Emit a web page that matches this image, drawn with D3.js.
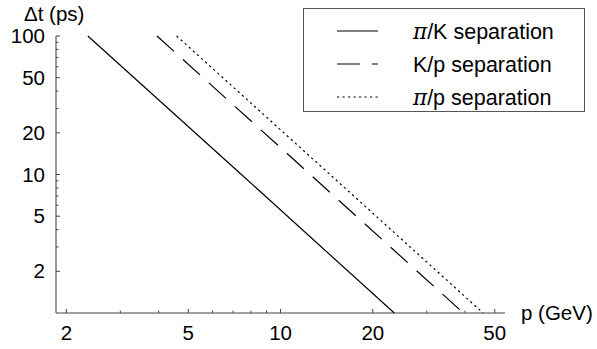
<!DOCTYPE html>
<html>
<head>
<meta charset="utf-8">
<script src="https://cdn.jsdelivr.net/npm/d3@7"></script>
<style>
  html, body { margin: 0; padding: 0; background: #fff; }
  svg { display: block; }
  text { font-family: "Liberation Sans", Arial, Helvetica, sans-serif; fill: #000; }
</style>
</head>
<body>
<svg id="chart" width="597" height="349"></svg>
<script>
// ---- data ----
const seriesNames = ["π/K separation", "K/p separation", "π/p separation"];
const piK_p  = [2.35, 7.45, 23.5];
const piK_dt = [100, 10, 1];
const Kp_p   = [3.95, 12.5, 39.5];
const Kp_dt  = [100, 10, 1];
const pip_p  = [4.58, 14.5, 45.8];
const pip_dt = [100, 10, 1];

const xMajorTicks = [2, 5, 10, 20, 50];
const xMinorTicks = [3, 4, 6, 7, 8, 9, 30, 40];
const yMajorTicks = [2, 5, 10, 20, 50, 100];
const yMinorTicks = [3, 4, 6, 7, 8, 9, 30, 40, 60, 70, 80, 90];

const xDomain = [1.85, 54];
const yDomain = [1, 100];

// ---- layout ----
const svg = d3.select("#chart");
const x = d3.scaleLog().domain(xDomain).range([56, 505]);
const y = d3.scaleLog().domain(yDomain).range([313, 36]);

const axisColor = "#444";
const fontSize = 20.5;
const legendFontSize = 21.5;

// x axis line
svg.append("line").attr("x1", x.range()[0]).attr("x2", x.range()[1])
  .attr("y1", y.range()[0]).attr("y2", y.range()[0])
  .attr("stroke", axisColor).attr("stroke-width", 1.1);
// y axis line
svg.append("line").attr("x1", x.range()[0]).attr("x2", x.range()[0])
  .attr("y1", y.range()[0]).attr("y2", y.range()[1])
  .attr("stroke", axisColor).attr("stroke-width", 1.1);

// x ticks (pointing into the plot)
const x0 = y.range()[0];
svg.append("g").selectAll("line").data(xMajorTicks).join("line")
  .attr("x1", d => x(d)).attr("x2", d => x(d))
  .attr("y1", x0).attr("y2", x0 - 4)
  .attr("stroke", axisColor).attr("stroke-width", 1);
svg.append("g").selectAll("line").data(xMinorTicks).join("line")
  .attr("x1", d => x(d)).attr("x2", d => x(d))
  .attr("y1", x0).attr("y2", x0 - 2.5)
  .attr("stroke", axisColor).attr("stroke-width", 1);
svg.append("g").selectAll("text").data(xMajorTicks).join("text")
  .attr("x", d => x(d)).attr("y", 340)
  .attr("text-anchor", "middle").attr("font-size", fontSize)
  .text(d => d);

// y ticks
const y0 = x.range()[0];
svg.append("g").selectAll("line").data(yMajorTicks).join("line")
  .attr("x1", y0).attr("x2", y0 + 4)
  .attr("y1", d => y(d)).attr("y2", d => y(d))
  .attr("stroke", axisColor).attr("stroke-width", 1);
svg.append("g").selectAll("line").data(yMinorTicks).join("line")
  .attr("x1", y0).attr("x2", y0 + 2.5)
  .attr("y1", d => y(d)).attr("y2", d => y(d))
  .attr("stroke", axisColor).attr("stroke-width", 1);
svg.append("g").selectAll("text").data(yMajorTicks).join("text")
  .attr("x", 45).attr("y", d => y(d))
  .attr("dy", "0.35em")
  .attr("text-anchor", "end").attr("font-size", fontSize)
  .text(d => d);

// axis titles
svg.append("text").attr("x", 24).attr("y", 21).attr("font-size", fontSize)
  .text("Δt (ps)");
svg.append("text").attr("x", 521).attr("y", y.range()[0]).attr("dy", "0.35em")
  .attr("font-size", fontSize).text("p (GeV)");

// ---- series ----
const styles = [
  { dash: null },
  { dash: "23,12" },
  { dash: "2.2,3.3" }
];
const series = [
  { name: seriesNames[0], p: piK_p, dt: piK_dt },
  { name: seriesNames[1], p: Kp_p,  dt: Kp_dt },
  { name: seriesNames[2], p: pip_p, dt: pip_dt }
];
const line = d3.line().x(d => x(d[0])).y(d => y(d[1]));
series.forEach((s, i) => {
  const pts = s.p.map((p, j) => [p, s.dt[j]]);
  svg.append("path").datum(pts)
    .attr("d", line)
    .attr("fill", "none")
    .attr("stroke", "#000")
    .attr("stroke-width", 1.2)
    .attr("stroke-dasharray", styles[i].dash);
});

// ---- legend ----
const lg = svg.append("g");
lg.append("rect").attr("x", 303.5).attr("y", 8.5).attr("width", 281).attr("height", 103)
  .attr("fill", "#fff").attr("stroke", "#555").attr("stroke-width", 1);
const rowY = [31, 64, 97];
series.forEach((s, i) => {
  lg.append("line").attr("x1", 337).attr("x2", 378)
    .attr("y1", rowY[i]).attr("y2", rowY[i])
    .attr("stroke", "#000").attr("stroke-width", 1.2)
    .attr("stroke-dasharray", styles[i].dash);
  const t = lg.append("text").attr("x", 413).attr("y", rowY[i]).attr("dy", "0.35em")
    .attr("font-size", legendFontSize);
  const name = s.name;
  if (name.startsWith("π")) {
    t.append("tspan").attr("font-style", "italic").attr("font-family", "'DejaVu Serif', serif").text("π");
    t.append("tspan").text(name.slice(1));
  } else {
    t.text(name);
  }
});
</script>
</body>
</html>
